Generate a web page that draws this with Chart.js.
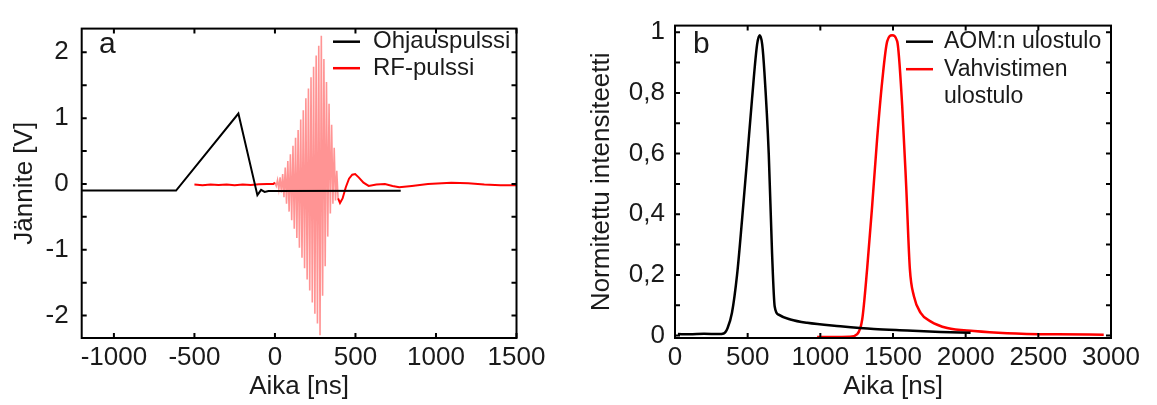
<!DOCTYPE html>
<html>
<head>
<meta charset="utf-8">
<script src="https://cdn.jsdelivr.net/npm/chart.js@4/dist/chart.umd.min.js"></script>
<style>
    html, body { margin: 0; padding: 0; background: #fff; }
    canvas { position: absolute; top: 0; }
    #chartA { left: 0; }
    #chartB { left: 560px; }
</style>
</head>
<body>
<canvas id="chartA" width="560" height="405"></canvas>
<canvas id="chartB" width="597" height="405"></canvas>
<script>
// --------------------
// Panel a data
// --------------------
const ctrlTime = [-1200, -614, -227, -109, -86, -64, -40, 781];
const ctrlVolt = [-0.1, -0.1, 1.07, -0.17, -0.09, -0.12, -0.107, -0.105];

const rfTime = [
    -500, -450, -400, -350, -300, -250, -200, -150, -100, -50, -10,
    0, 8, 16, 24, 32, 40, 48, 56, 64, 72, 80, 88, 96, 104, 112, 120, 128, 136, 144, 152,
    160, 168, 176, 184, 192, 200, 208, 216, 224, 232, 240, 248, 256, 264, 272, 280, 288,
    296, 304, 312, 320, 328, 336, 344, 352, 360, 368, 376, 384, 392,
    404, 420, 440, 460, 480, 498, 520, 550, 582, 630, 683, 730, 772, 850, 950, 1095,
    1200, 1300, 1400, 1500
];
const rfVolt = [
    -0.01, -0.02, -0.01, -0.015, -0.01, -0.02, -0.01, -0.015, -0.005, 0.0, 0.0,
    0.02, -0.03, 0.06, -0.08, 0.1, -0.13, 0.15, -0.2, 0.25, -0.3, 0.35, -0.42, 0.45, -0.55, 0.58, -0.68, 0.7, -0.82, 0.82, -0.97,
    0.98, -1.12, 1.12, -1.28, 1.3, -1.45, 1.45, -1.62, 1.62, -1.8, 1.78, -1.97, 1.95, -2.12, 2.1, -2.3, 2.25,
    -1.7, 1.9, -1.25, 1.55, -0.8, 1.22, -0.45, 0.9, -0.3, 0.55, -0.25, 0.2, -0.22,
    -0.29, -0.22, -0.05, 0.08, 0.14, 0.15, 0.1, 0.02, -0.03, -0.01, 0.0, -0.03, -0.05, -0.03, 0.0, 0.02,
    0.01, -0.01, -0.02, -0.02
];

const xTicksA = [-1000, -500, 0, 500, 1000, 1500];
const yTicksA = [-2, -1.5, -1, -0.5, 0, 0.5, 1, 1.5, 2];
const yLabelsA = ['-2', '', '-1', '', '0', '', '1', '', '2'];

// --------------------
// Panel b data
// --------------------
const aomTime = [20, 100, 200, 300, 335, 362, 392, 427, 461, 496, 530, 565, 583, 600, 615, 645, 668, 686, 713, 794, 909, 1138, 1368, 1598, 1827, 2034];
const aomVal = [0.005, 0.004, 0.006, 0.005, 0.007, 0.025, 0.075, 0.2, 0.38, 0.58, 0.78, 0.96, 0.99, 0.96, 0.87, 0.6, 0.27, 0.096, 0.069, 0.053, 0.042, 0.031, 0.022, 0.017, 0.012, 0.009];

const ampTime = [978, 1100, 1200, 1254, 1288, 1322, 1357, 1391, 1426, 1460, 1494, 1529, 1563, 1591, 1616, 1644, 1690, 1758, 1873, 2057, 2286, 2630, 2950];
const ampVal = [-0.005, -0.005, -0.004, 0.005, 0.053, 0.22, 0.43, 0.65, 0.84, 0.97, 0.99, 0.97, 0.76, 0.49, 0.22, 0.13, 0.075, 0.047, 0.025, 0.015, 0.008, 0.004, 0.003];

const xTicksB = [0, 500, 1000, 1500, 2000, 2500, 3000];
const yTicksB = [0, 0.1, 0.2, 0.3, 0.4, 0.5, 0.6, 0.7, 0.8, 0.9, 1];
const yLabelsB = ['0', '', '0,2', '', '0,4', '', '0,6', '', '0,8', '', '1'];

// --------------------
// Shared styling
// --------------------
const FONT = '"Liberation Sans", Arial, sans-serif';
const TEXT = '#1a1a1a';
const tickFont = { family: FONT, size: 26 };
const titleFont = { family: FONT, size: 26 };

const toPoints = (xs, ys) => xs.map((x, i) => ({ x: x, y: ys[i] }));

// the RF burst is drawn thin and light so it reads as a pink band
const inBurst = c => c.p0.parsed.x >= 0 && c.p1.parsed.x <= 392;

// frame round the plot area, with inward ticks on all four sides
const frameTicks = {
    id: 'frameTicks',
    afterDatasetsDraw(chart) {
        const { ctx, chartArea: a, scales } = chart;
        ctx.save();
        ctx.strokeStyle = '#000';
        ctx.lineWidth = 2;
        ctx.beginPath();
        scales.x.ticks.forEach(t => {
            const px = scales.x.getPixelForValue(t.value);
            ctx.moveTo(px, a.bottom); ctx.lineTo(px, a.bottom - 5);
            ctx.moveTo(px, a.top); ctx.lineTo(px, a.top + 5);
        });
        scales.y.ticks.forEach(t => {
            const py = scales.y.getPixelForValue(t.value);
            ctx.moveTo(a.left, py); ctx.lineTo(a.left + 5, py);
            ctx.moveTo(a.right, py); ctx.lineTo(a.right - 5, py);
        });
        ctx.stroke();
        ctx.strokeRect(a.left, a.top, a.width, a.height);
        ctx.restore();
    }
};

// legend drawn inside the plot, plus the panel letter
const innerLegend = {
    id: 'innerLegend',
    afterDraw(chart, args, opts) {
        const { ctx } = chart;
        ctx.save();
        ctx.font = '30px ' + FONT;
        ctx.fillStyle = TEXT;
        ctx.textBaseline = 'alphabetic';
        ctx.fillText(opts.letter, opts.letterX, opts.letterY);

        ctx.font = opts.fontSize + 'px ' + FONT;
        ctx.textBaseline = 'middle';
        let y = opts.top;
        chart.data.datasets.forEach(ds => {
            ctx.strokeStyle = ds.borderColor;
            ctx.lineWidth = 2.5;
            ctx.beginPath();
            ctx.moveTo(opts.left, y);
            ctx.lineTo(opts.left + opts.sample, y);
            ctx.stroke();
            ds.label.split('\n').forEach(line => {
                ctx.fillText(line, opts.left + opts.sample + opts.gap, y);
                y += opts.rowH;
            });
        });
        ctx.restore();
    }
};

function makeScales(cfg) {
    return {
        x: {
            type: 'linear', min: cfg.xMin, max: cfg.xMax,
            afterBuildTicks: s => { s.ticks = cfg.xTicks.map(v => ({ value: v })); },
            afterFit: s => { s.height = 67; },
            grid: { display: false, drawTicks: false },
            border: { display: false },
            ticks: {
                font: tickFont, color: TEXT, padding: 4,
                maxRotation: 0, autoSkip: false,
                callback: v => String(v)
            },
            title: {
                display: true, text: 'Aika [ns]', color: TEXT,
                font: titleFont, padding: { top: 0, bottom: 2.4 }
            }
        },
        y: {
            type: 'linear', min: cfg.yMin, max: cfg.yMax,
            afterBuildTicks: s => { s.ticks = cfg.yTicks.map(v => ({ value: v })); },
            afterFit: s => { s.width = cfg.yWidth; },
            grid: { display: false, drawTicks: false },
            border: { display: false },
            ticks: {
                font: tickFont, color: TEXT, padding: cfg.yPad,
                autoSkip: false,
                callback: (v, i) => cfg.yLabels[i]
            },
            title: {
                display: true, text: cfg.yTitle, color: TEXT,
                font: titleFont, padding: { top: cfg.yTitlePad, bottom: 0 }
            }
        }
    };
}

const commonOptions = {
    responsive: false,
    animation: false,
    events: [],
    plugins: { legend: { display: false }, tooltip: { enabled: false } }
};

// --------------------
// Panel a
// --------------------
new Chart(document.getElementById('chartA').getContext('2d'), {
    type: 'line',
    data: {
        datasets: [
            {
                label: 'Ohjauspulssi',
                data: toPoints(ctrlTime, ctrlVolt),
                borderColor: '#000',
                borderWidth: 2,
                pointRadius: 0,
                tension: 0
            },
            {
                label: 'RF-pulssi',
                data: toPoints(rfTime, rfVolt),
                borderColor: '#ff0000',
                borderWidth: 2,
                pointRadius: 0,
                tension: 0,
                segment: {
                    borderColor: c => inBurst(c) ? 'rgba(255, 60, 60, 0.55)' : '#ff0000',
                    borderWidth: c => inBurst(c) ? 1.6 : 2
                }
            }
        ]
    },
    options: Object.assign({}, commonOptions, {
        layout: { padding: { left: 0, right: 43.5, top: 23.3, bottom: 0 } },
        scales: makeScales({
            xMin: -1200, xMax: 1500, xTicks: xTicksA,
            yMin: -2.34, yMax: 2.36, yTicks: yTicksA, yLabels: yLabelsA,
            yWidth: 81.7, yPad: 13, yTitle: 'Jännite [V]', yTitlePad: 9.4
        }),
        plugins: Object.assign({}, commonOptions.plugins, {
            innerLegend: { letter: 'a', letterX: 99, letterY: 53, left: 333, top: 41.7, sample: 27, gap: 13, rowH: 26.5, fontSize: 24 }
        })
    }),
    plugins: [frameTicks, innerLegend]
});

// --------------------
// Panel b
// --------------------
new Chart(document.getElementById('chartB').getContext('2d'), {
    type: 'line',
    data: {
        datasets: [
            {
                label: 'AOM:n ulostulo',
                data: toPoints(aomTime, aomVal),
                borderColor: '#000',
                borderWidth: 2.5,
                pointRadius: 0,
                cubicInterpolationMode: 'monotone'
            },
            {
                label: 'Vahvistimen\nulostulo',
                data: toPoints(ampTime, ampVal),
                borderColor: '#ff0000',
                borderWidth: 2.5,
                pointRadius: 0,
                cubicInterpolationMode: 'monotone'
            }
        ]
    },
    options: Object.assign({}, commonOptions, {
        layout: { padding: { left: 0, right: 46, top: 23.3, bottom: 0 } },
        scales: makeScales({
            xMin: 0, xMax: 3000, xTicks: xTicksB,
            yMin: -0.008, yMax: 1.022, yTicks: yTicksB, yLabels: yLabelsB,
            yWidth: 115, yPad: 10, yTitle: 'Normitettu intensiteetti', yTitlePad: 26
        }),
        plugins: Object.assign({}, commonOptions.plugins, {
            innerLegend: { letter: 'b', letterX: 133, letterY: 53, left: 346, top: 41.7, sample: 27, gap: 11, rowH: 27.5, fontSize: 23 }
        })
    }),
    plugins: [frameTicks, innerLegend]
});
</script>
</body>
</html>
